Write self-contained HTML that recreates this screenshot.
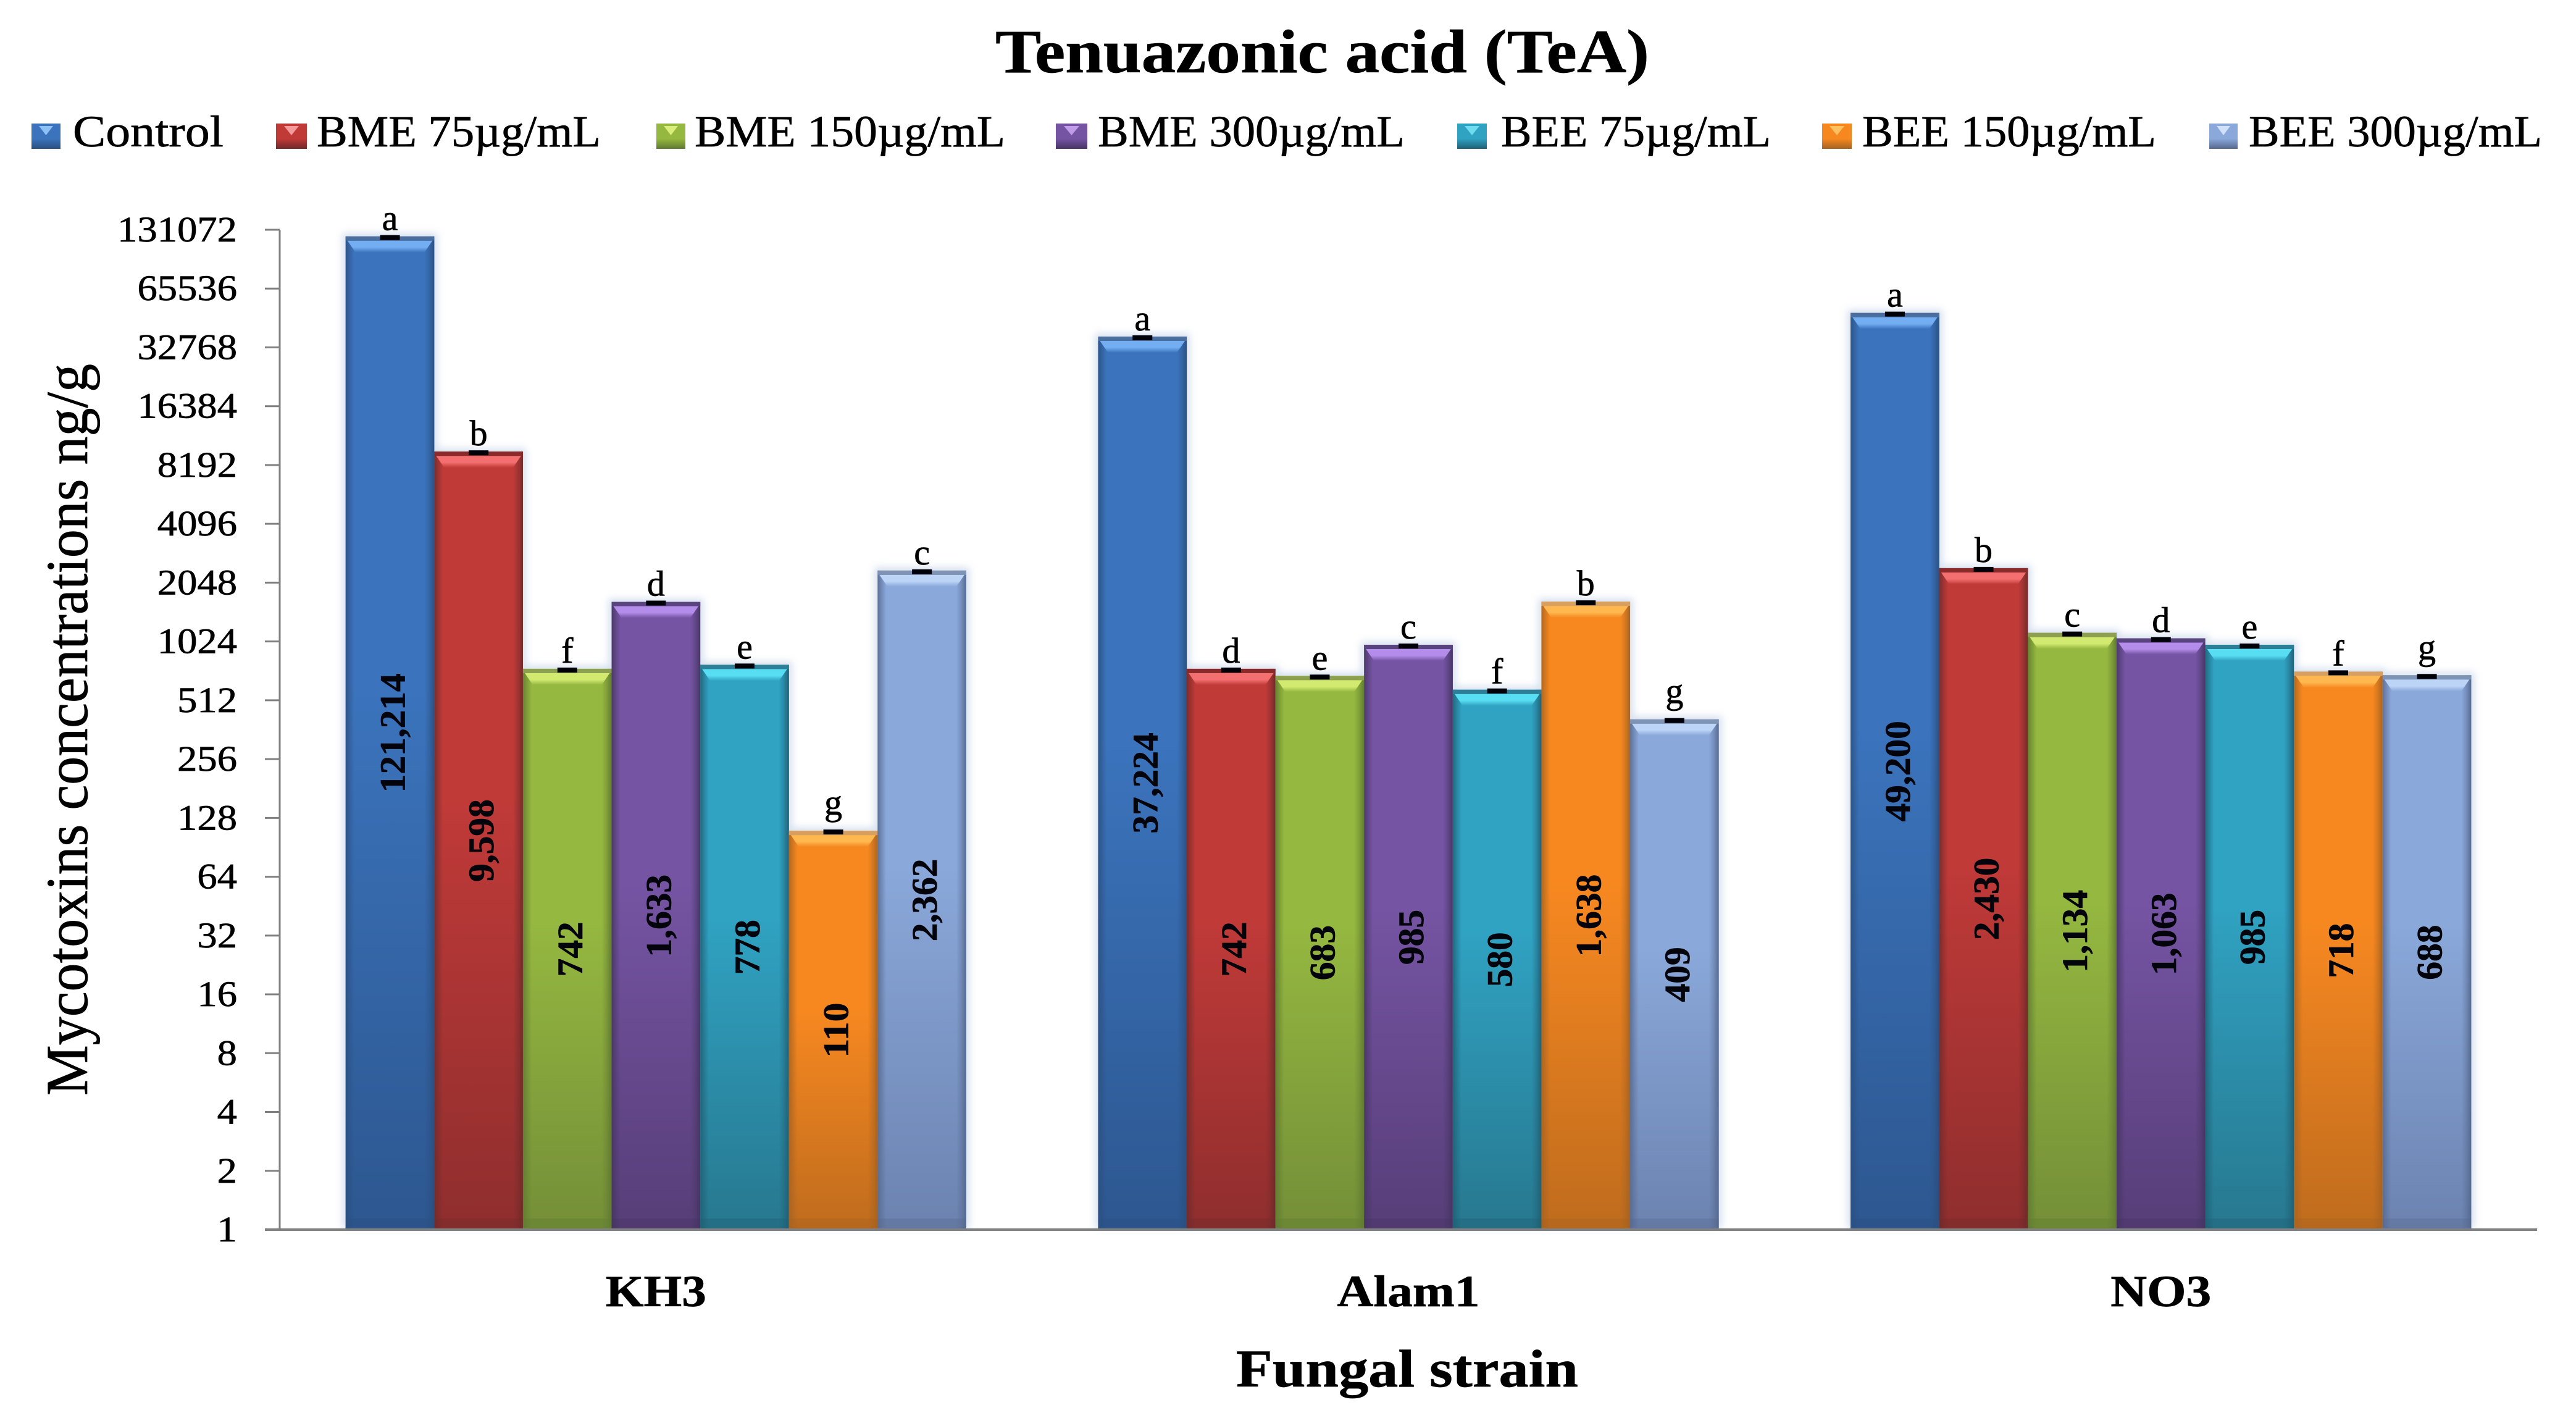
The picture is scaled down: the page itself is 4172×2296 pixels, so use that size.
<!DOCTYPE html>
<html lang="en">
<head>
<meta charset="utf-8">
<title>Tenuazonic acid (TeA)</title>
<style>
html,body{margin:0;padding:0;background:#fff;width:4172px;height:2296px;overflow:hidden}
svg{display:block}
text{font-family:"Liberation Serif",serif;fill:#000;stroke:#000;stroke-width:0.7px}
</style>
</head>
<body>
<svg id="chart" xmlns="http://www.w3.org/2000/svg" width="4172" height="2296" viewBox="0 0 4172 2296">
  <defs id="defs">
    <filter id="halo" x="-30%" y="-30%" width="160%" height="160%"><feGaussianBlur stdDeviation="6"/></filter>
  </defs>
  <rect x="0" y="0" width="4172" height="2296" fill="#ffffff"/>
  <text x="1612" y="117" font-size="100" font-weight="bold" textLength="1059" lengthAdjust="spacingAndGlyphs">Tenuazonic acid (TeA)</text>
  <g id="legend" font-size="72">
    <text x="118" y="237" textLength="244" lengthAdjust="spacingAndGlyphs">Control</text>
    <text x="513" y="237" textLength="460" lengthAdjust="spacingAndGlyphs">BME 75µg/mL</text>
    <text x="1125" y="237" textLength="503" lengthAdjust="spacingAndGlyphs">BME 150µg/mL</text>
    <text x="1778" y="237" textLength="497" lengthAdjust="spacingAndGlyphs">BME 300µg/mL</text>
    <text x="2431" y="237" textLength="437" lengthAdjust="spacingAndGlyphs">BEE 75µg/mL</text>
    <text x="3016" y="237" textLength="476" lengthAdjust="spacingAndGlyphs">BEE 150µg/mL</text>
    <text x="3642" y="237" textLength="475" lengthAdjust="spacingAndGlyphs">BEE 300µg/mL</text>
    <g><rect x="51" y="200" width="47" height="41" fill="url(#sw0)"/><polygon points="63,204 86,204 74.5,219" fill="#8fc0f5"/></g>
    <g><rect x="447" y="200" width="50" height="41" fill="url(#sw1)"/><polygon points="460,204 484,204 472,219" fill="#f59a9a"/></g>
    <g><rect x="1063" y="200" width="47" height="41" fill="url(#sw2)"/><polygon points="1075,204 1098,204 1086.5,219" fill="#d8ee78"/></g>
    <g><rect x="1710" y="200" width="51" height="41" fill="url(#sw3)"/><polygon points="1723,204 1748,204 1735.5,219" fill="#c09be8"/></g>
    <g><rect x="2360" y="200" width="48" height="41" fill="url(#sw4)"/><polygon points="2372,204 2396,204 2384,219" fill="#70dcf0"/></g>
    <g><rect x="2951" y="200" width="48" height="41" fill="url(#sw5)"/><polygon points="2963,204 2987,204 2975,219" fill="#ffc060"/></g>
    <g><rect x="3578" y="200" width="46" height="41" fill="url(#sw6)"/><polygon points="3590,204 3612,204 3601,219" fill="#d0e0fa"/></g>
  </g>
  <text transform="translate(141,1774) rotate(-90)" font-size="96" textLength="1185" lengthAdjust="spacingAndGlyphs">Mycotoxins concentrations ng/g</text>
  <text x="2002" y="2245" font-size="86" font-weight="bold" textLength="554" lengthAdjust="spacingAndGlyphs">Fungal strain</text>
  <g id="halos" filter="url(#halo)" opacity="0.25"></g>
  <g id="bars"></g>
  <g id="axes"></g>
  <g id="labels"></g>
</svg>
<script>
// ---- chart data ----
const categories = ["KH3", "Alam1", "NO3"];
const seriesNames = ["Control", "BME 75µg/mL", "BME 150µg/mL", "BME 300µg/mL", "BEE 75µg/mL", "BEE 150µg/mL", "BEE 300µg/mL"];
const control = [121214, 37224, 49200];
const bme75 = [9598, 742, 2430];
const bme150 = [742, 683, 1134];
const bme300 = [1633, 985, 1063];
const bee75 = [778, 580, 985];
const bee150 = [110, 1638, 718];
const bee300 = [2362, 409, 688];
const lettersControl = ["a", "a", "a"];
const lettersBme75 = ["b", "d", "b"];
const lettersBme150 = ["f", "e", "c"];
const lettersBme300 = ["d", "c", "d"];
const lettersBee75 = ["e", "f", "e"];
const lettersBee150 = ["g", "b", "f"];
const lettersBee300 = ["c", "g", "g"];
const tickLabels = [1, 2, 4, 8, 16, 32, 64, 128, 256, 512, 1024, 2048, 4096, 8192, 16384, 32768, 65536, 131072];

const seriesValues = [control, bme75, bme150, bme300, bee75, bee150, bee300];
const seriesLetters = [lettersControl, lettersBme75, lettersBme150, lettersBme300, lettersBee75, lettersBee150, lettersBee300];

// ---- styling ----
const mainColor = ["#3b74bd", "#c03a38", "#95b840", "#7554a3", "#30a2c2", "#f78820", "#8aa8da"];
const lowColor = ["#2d5790", "#8f2e2e", "#748f38", "#573e78", "#27788f", "#bf6c1e", "#6c83b0"];
const edgeColor = ["#2a4f80", "#6f2a2a", "#5f7a30", "#463462", "#1f5f74", "#a66220", "#55688e"];
const lightColor = ["#74aef2", "#f47070", "#d2ea70", "#b48cea", "#58deF2", "#ffb850", "#bcd4f6"];
const rimColor = ["#4a6f9e", "#8a2a2a", "#8da050", "#5a4480", "#2c7f96", "#d8a060", "#7f93b4"];

// ---- scales ----
const plotLeft = 453, plotTop = 372, plotBottom = 1991, groupStep = 1218.7, barWidth = 143.6;
const maxTick = tickLabels[tickLabels.length - 1];
function yScale(v) {
  return plotBottom - (Math.log2(v) / Math.log2(maxTick)) * (plotBottom - plotTop);
}
function groupCenter(c) {
  return plotLeft + groupStep * (c + 0.5);
}
function barLeft(c, s) {
  return groupCenter(c) - barWidth * seriesNames.length / 2 + barWidth * s;
}

const NS = "http://www.w3.org/2000/svg";
function make(tag, attrs, parent) {
  const el = document.createElementNS(NS, tag);
  for (const k in attrs) el.setAttribute(k, attrs[k]);
  parent.appendChild(el);
  return el;
}
function gradient(id, x2, y2, stops) {
  const g = make("linearGradient", {id: id, x1: 0, y1: 0, x2: x2, y2: y2}, document.getElementById("defs"));
  stops.forEach(function (st) {
    make("stop", {offset: st[0], "stop-color": st[1], "stop-opacity": st[2] === undefined ? 1 : st[2]}, g);
  });
}
const slug = function (t) { return t.toLowerCase().replace(/µg\/ml/, "").trim().replace(/\s+/g, "-"); };

mainColor.forEach(function (col, s) {
  gradient("fill" + s, 0, 1, [[0, col], [0.45, col], [1, lowColor[s]]]);
  gradient("left" + s, 1, 0, [[0, edgeColor[s], 0.85], [0.45, edgeColor[s], 0.45], [1, edgeColor[s], 0]]);
  gradient("right" + s, 1, 0, [[0, edgeColor[s], 0], [0.5, edgeColor[s], 0.4], [1, edgeColor[s], 0.95]]);
  gradient("top" + s, 0, 1, [[0, lightColor[s]], [0.55, lightColor[s]], [1, lightColor[s], 0]]);
  gradient("sw" + s, 0, 1, [[0, col], [0.6, col], [1, edgeColor[s]]]);
});

const halos = document.getElementById("halos");
const bars = document.getElementById("bars");
const axes = document.getElementById("axes");
const labels = document.getElementById("labels");

// ---- bars ----
seriesValues.forEach(function (values, s) {
  values.forEach(function (v, c) {
    const x = barLeft(c, s), top = yScale(v), h = plotBottom - 2 - top;
    const name = slug(seriesNames[s]) + "-" + categories[c].toLowerCase();

    const halo = make("rect", {x: x - 5, y: top - 5, width: barWidth + 10, height: h + 5, fill: "#5f86c0"}, halos);
    
    

    const bar = make("g", {}, bars);
    
    
    make("rect", {x: x, y: top, width: barWidth, height: h, fill: "url(#fill" + s + ")"}, bar);
    make("rect", {x: x, y: top, width: 14, height: h, fill: "url(#left" + s + ")"}, bar);
    make("rect", {x: x + barWidth - 16, y: top, width: 16, height: h, fill: "url(#right" + s + ")"}, bar);
    make("rect", {x: x, y: plotBottom - 18, width: barWidth, height: 16, fill: edgeColor[s], "fill-opacity": 0.35}, bar);
    make("polygon", {
      points: [x + 3, top + 7, x + barWidth - 3, top + 7, x + barWidth - 16, top + 26, x + 16, top + 26].join(" "),
      fill: "url(#top" + s + ")"
    }, bar);
    make("rect", {x: x, y: top, width: barWidth, height: 7, fill: rimColor[s]}, bar);
  });
});

// ---- axes ----
const yLine = make("line", {x1: plotLeft, y1: plotTop, x2: plotLeft, y2: plotBottom, stroke: "#808080", "stroke-width": 3}, axes);


const xLine = make("line", {x1: plotLeft - 24, y1: plotBottom, x2: plotLeft + groupStep * categories.length, y2: plotBottom, stroke: "#808080", "stroke-width": 4}, axes);



tickLabels.forEach(function (t) {
  const y = yScale(t);
  const tick = make("line", {x1: plotLeft - 24, y1: y, x2: plotLeft, y2: y, stroke: "#808080", "stroke-width": 3}, axes);
  
  
  const label = String(t);
  const txt = make("text", {
    x: 384, y: y + 19, "font-size": 58, "text-anchor": "end",
    textLength: label.length * 32.3, lengthAdjust: "spacingAndGlyphs"
  }, axes);
  txt.textContent = label;
  
  
});

const catWidth = {3: 163, 5: 231};
categories.forEach(function (cat, c) {
  const txt = make("text", {
    x: groupCenter(c), y: 2115, "font-size": 72, "font-weight": "bold", "text-anchor": "middle",
    textLength: catWidth[cat.length] || cat.length * 50, lengthAdjust: "spacingAndGlyphs"
  }, axes);
  txt.textContent = cat;
  
  
});

// ---- data labels, letters, error caps ----
seriesValues.forEach(function (values, s) {
  values.forEach(function (v, c) {
    const x = barLeft(c, s), cx = x + barWidth / 2, top = yScale(v);
    const name = slug(seriesNames[s]) + "-" + categories[c].toLowerCase();

    const cap = make("rect", {x: cx - 16, y: top - 2, width: 32, height: 8, fill: "#000008"}, labels);
    
    

    const glyph = seriesLetters[s][c];
    const letter = make("text", {
      x: cx, y: top - (glyph === "g" ? 26 : 10), "font-size": 58, "text-anchor": "middle"
    }, labels);
    letter.textContent = glyph;
    
    

    const printed = Math.round(v).toLocaleString("en-US");
    const digits = printed.replace(/,/g, "").length, commas = printed.length - digits;
    const midY = (top + plotBottom) / 2;
    const val = make("text", {
      transform: "translate(" + (cx + 24) + "," + midY + ") rotate(-90)",
      "font-size": 58, "font-weight": "bold", "text-anchor": "middle",
      textLength: (digits + commas * 0.5) * 29.7, lengthAdjust: "spacingAndGlyphs",
      style: "fill:#04040c"
    }, labels);
    val.textContent = printed;
    
    
  });
});
</script>
</body>
</html>
